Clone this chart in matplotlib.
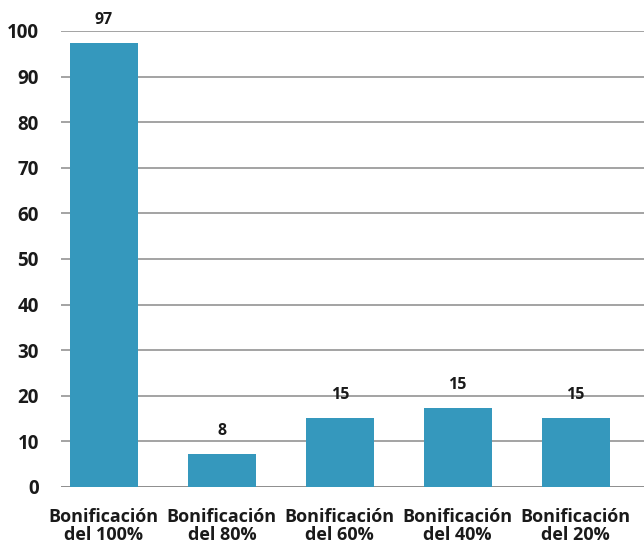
import matplotlib
matplotlib.use("Agg")
import matplotlib.pyplot as plt

categories = ["Bonificación\ndel 100%", "Bonificación\ndel 80%", "Bonificación\ndel 60%",
              "Bonificación\ndel 40%", "Bonificación\ndel 20%"]
bar_values = [97.4, 7.2, 15.1, 17.4, 15.1]
value_labels = ["97", "8", "15", "15", "15"]
y_ticks = [0, 10, 20, 30, 40, 50, 60, 70, 80, 90, 100]

plt.rcParams["font.family"] = ["Open Sans", "DejaVu Sans"]

fig = plt.figure(figsize=(6.44, 5.40), dpi=100)
ax = fig.add_axes([61 / 644, 53 / 540, 583 / 644, 456 / 540])

x = list(range(len(categories)))
ax.bar(x, bar_values, width=0.575, color="#3598bd", zorder=3)

for xi, v, lab in zip(x, bar_values, value_labels):
    ax.text(xi, v + 3.3, lab, ha="center", va="bottom", fontsize=11.5,
            fontweight="bold", color="#1a1a1a", clip_on=False)

ax.set_xlim(-0.364, 4.58)
ax.set_ylim(0, 100)
ax.set_yticks(y_ticks)
ax.set_yticklabels([str(t) for t in y_ticks], fontsize=13.5, fontweight="bold", color="#1a1a1a")
ax.set_xticks(x)
ax.set_xticklabels(categories, fontsize=13, fontweight="bold", color="#1a1a1a",
                   linespacing=1.0)
ax.tick_params(axis="y", length=0, pad=16)
ax.tick_params(axis="x", length=0, pad=15)

ax.grid(axis="y", color="#8a8a8a", linewidth=1.1, zorder=0)
for s in ax.spines.values():
    s.set_visible(False)
ax.axhline(0, color="#8a8a8a", linewidth=1.1, zorder=2)

fig.savefig("out.png", dpi=100)
